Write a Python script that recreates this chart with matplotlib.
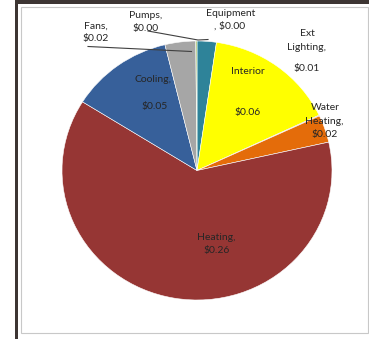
import matplotlib
matplotlib.use("Agg")
import matplotlib.pyplot as plt
from matplotlib.patches import Rectangle
from matplotlib.lines import Line2D

# ---- data ----
categories = ["Equipment", "Interior", "Ext Lighting", "Water Heating",
              "Heating", "Cooling", "Fans", "Pumps"]
values = [0.0096, 0.0653, 0.0004, 0.0142, 0.2600, 0.0512, 0.0153, 0.0006]
value_labels = ["$0.00", "$0.06", "$0.01", "$0.02", "$0.26", "$0.05", "$0.02", "$0.00"]
colors = ["#2E8399", "#FFFF00", "#8064A2", "#E46C0A",
          "#963634", "#37609A", "#A6A6A6", "#9BBB59"]

# label text lines and their pixel positions (layout)
label_lines = {
    "Equipment": [("Equipment", 231, 14), (", $0.00", 230, 26)],
    "Interior": [("Interior", 248, 72), ("$0.06", 248, 113)],
    "Ext Lighting": [("Ext", 307, 33), ("Lighting,", 307, 48), ("$0.01", 307, 68)],
    "Water Heating": [("Water", 325, 107), ("Heating,", 324, 122), ("$0.02", 325, 135)],
    "Heating": [("Heating,", 216, 238), ("$0.26", 217, 251)],
    "Cooling": [("Cooling,", 153, 79), ("$0.05", 155, 106)],
    "Fans": [("Fans,", 96, 26), ("$0.02", 96, 39)],
    "Pumps": [("Pumps,", 146, 15), ("$0.00", 146, 28)],
}

W, H = 369, 339
fig = plt.figure(figsize=(W / 100, H / 100), dpi=100)
fig.patch.set_facecolor("white")

def px(x, y):
    return x / W, 1 - y / H

# screenshot frame elements (behind the pie)
fig.add_artist(Rectangle((15 / W, 0), 2.5 / W, 1, transform=fig.transFigure,
                         facecolor="#3d3533", edgecolor="none", zorder=-5))
fig.add_artist(Rectangle((15 / W, 1 - 4 / H), 1, 4 / H, transform=fig.transFigure,
                         facecolor="#3d3533", edgecolor="none", zorder=-5))
fig.add_artist(Rectangle((21 / W, 1 - 333 / H), 347 / W, 326 / H, transform=fig.transFigure,
                         facecolor="white", edgecolor="#c8c8c8", linewidth=0.8, zorder=-5))

# pie axes (pixel box 62..332 x 41..300)
l, t, r, b = 62, 41, 332, 300
ax = fig.add_axes([l / W, 1 - b / H, (r - l) / W, (b - t) / H])
ax.set_zorder(1)
ax.patch.set_visible(False)
ax.pie(values, colors=colors, startangle=90, counterclock=False,
       wedgeprops=dict(edgecolor="white", linewidth=0.4))
ax.set_aspect("auto")
ax.set_xlim(-1, 1)
ax.set_ylim(-1, 1)
ax.axis("off")

# labels
for cat in categories:
    for txt, x, y in label_lines[cat]:
        fx, fy = px(x, y)
        fig.text(fx, fy, txt, ha="center", va="center", fontsize=7.5,
                 family=["Lato", "DejaVu Sans"], color="#262626", zorder=10)

# leader lines
for pts in ([(88, 46.5), (191.5, 51.5)],
            [(148, 31), (198, 40), (208, 39.5)]):
    xs = [p[0] / W for p in pts]
    ys = [1 - p[1] / H for p in pts]
    fig.add_artist(Line2D(xs, ys, transform=fig.transFigure, color="#404040",
                          linewidth=0.8, zorder=10))

fig.savefig("out.png", dpi=100)
